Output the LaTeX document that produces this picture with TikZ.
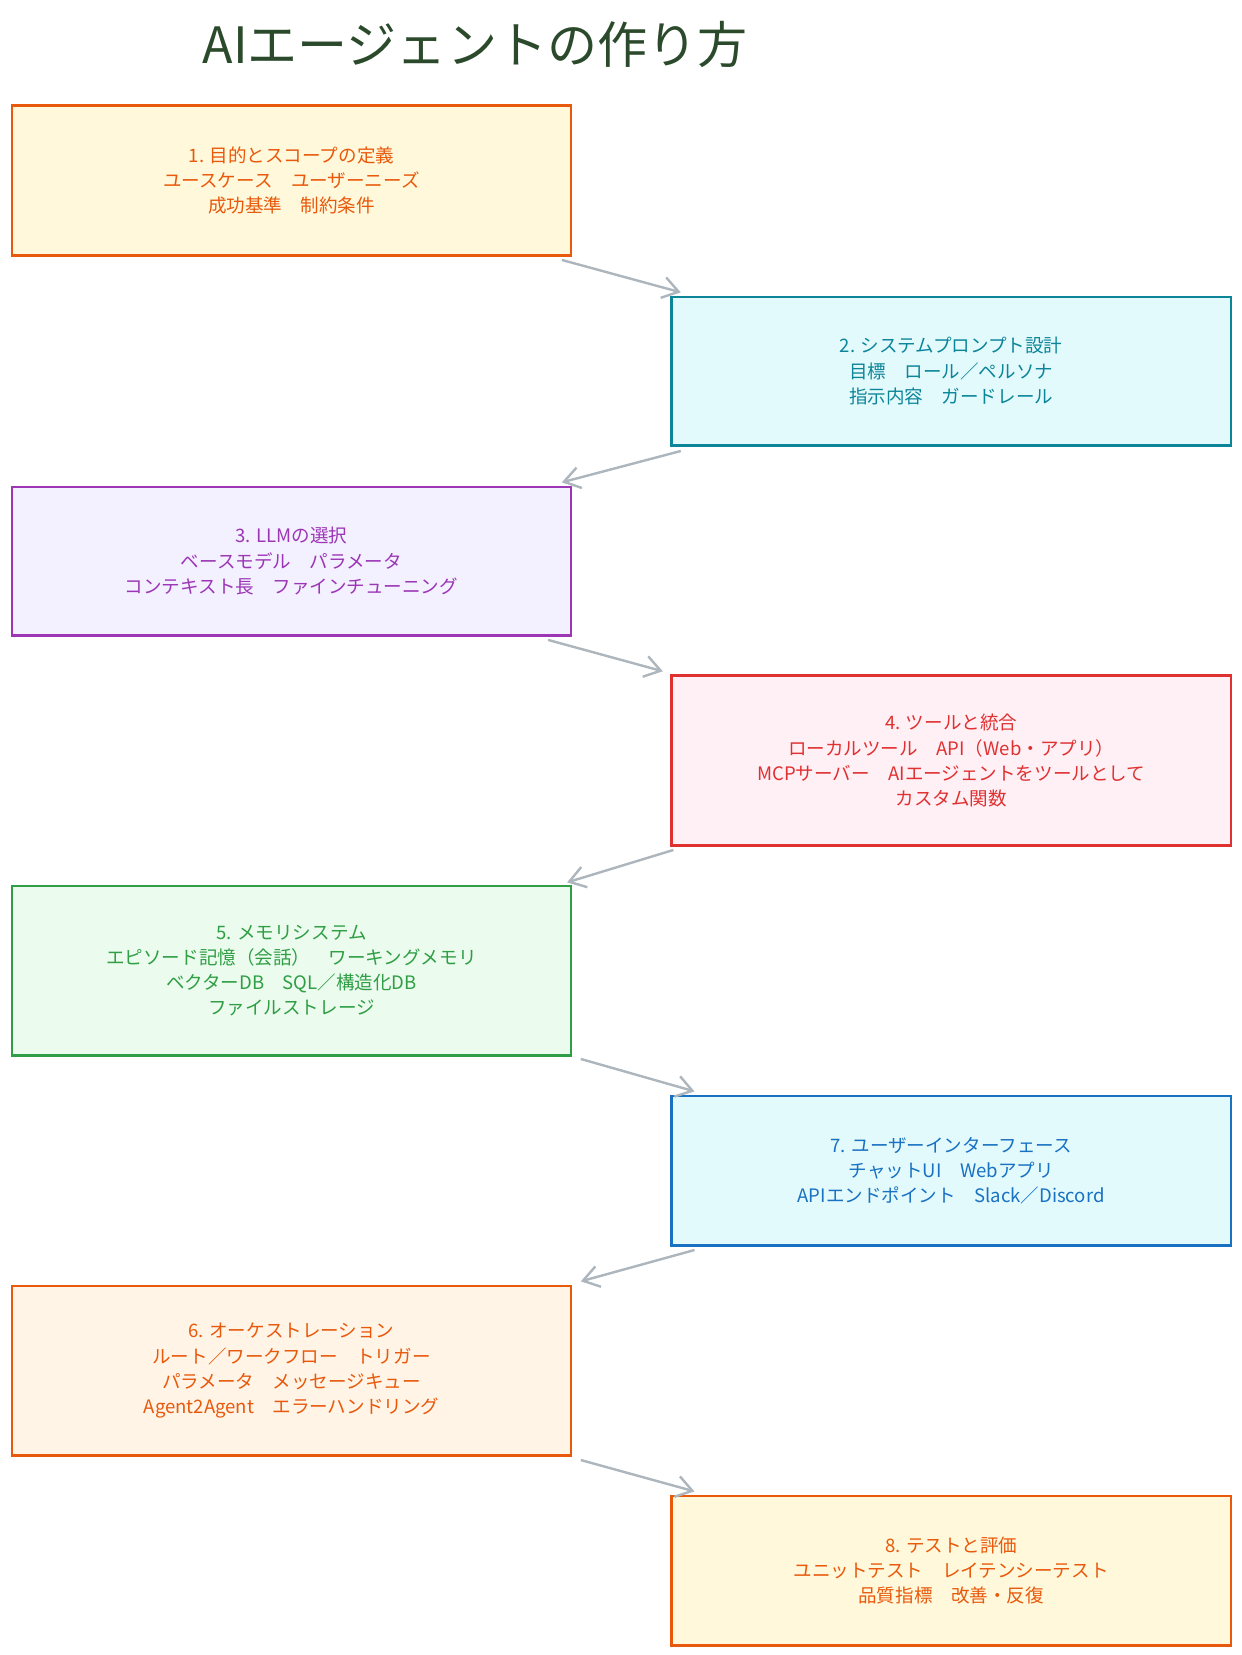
\documentclass[tikz,border=0pt]{standalone}
\usepackage{fontspec}
\setmainfont{Noto Sans CJK JP}
\usetikzlibrary{arrows.meta}
\definecolor{cOr}{HTML}{E8590C}\definecolor{fOr1}{HTML}{FFF8DB}\definecolor{fOr2}{HTML}{FFF4E6}
\definecolor{cTe}{HTML}{0C8599}\definecolor{fTe}{HTML}{E3FAFC}
\definecolor{cPu}{HTML}{9C36B5}\definecolor{fPu}{HTML}{F3F0FF}
\definecolor{cRe}{HTML}{E03131}\definecolor{fRe}{HTML}{FFF0F6}
\definecolor{cGr}{HTML}{2F9E44}\definecolor{fGr}{HTML}{EBFBEE}
\definecolor{cBl}{HTML}{1971C2}
\definecolor{cAr}{HTML}{ADB5BD}\definecolor{cTi}{HTML}{2B4A2B}
\tikzset{
 boxst/.style={draw=#1,text=#1,line width=1.3pt,align=center,anchor=north west,font=\fontsize{10}{13.6}\selectfont},
 arr/.style={draw=cAr,line width=1.3pt,-{Straight Barb[length=3mm,width=4mm]}}
}
\begin{document}
\begin{tikzpicture}[x=0.02cm,y=-0.02cm]
\useasboundingbox (0,0) rectangle (1176,1568);
\node[text=cTi,font=\fontsize{27}{32}\selectfont] (title) at (450,42) {AIエージェントの作り方};
\node[boxst=cOr,fill=fOr1,minimum width=530*0.02cm,minimum height=142*0.02cm] (b1) at (10,99) {1. 目的とスコープの定義\\ユースケース　ユーザーニーズ\\成功基準　制約条件};
\node[boxst=cTe,fill=fTe,minimum width=530*0.02cm,minimum height=141*0.02cm] (b2) at (635,280) {2. システムプロンプト設計\\目標　ロール／ペルソナ\\指示内容　ガードレール};
\node[boxst=cPu,fill=fPu,minimum width=530*0.02cm,minimum height=141*0.02cm] (b3) at (10,460) {3. \textit{LLM}の選択\\ベースモデル　パラメータ\\コンテキスト長　ファインチューニング};
\node[boxst=cRe,fill=fRe,minimum width=530*0.02cm,minimum height=161*0.02cm] (b4) at (635,639) {4. ツールと統合\\ローカルツール　\textit{API}（\textit{Web}・アプリ）\\MCPサーバー　\textit{AI}エージェントをツールとして\\カスタム関数};
\node[boxst=cGr,fill=fGr,minimum width=530*0.02cm,minimum height=161*0.02cm] (b5) at (10,838) {5. メモリシステム\\エピソード記憶（会話）　ワーキングメモリ\\ベクターDB　\textit{SQL}／構造化DB\\ファイルストレージ};
\node[boxst=cBl,fill=fTe,minimum width=530*0.02cm,minimum height=142*0.02cm] (b7) at (635,1037) {7. ユーザーインターフェース\\チャット\textit{UI}　\textit{Web}アプリ\\\textit{API}エンドポイント　\textit{Slack}／\textit{Discord}};
\node[boxst=cOr,fill=fOr2,minimum width=530*0.02cm,minimum height=161*0.02cm] (b6) at (10,1217) {6. オーケストレーション\\ルート／ワークフロー　トリガー\\パラメータ　メッセージキュー\\\textit{Agent2Agent}　エラーハンドリング};
\node[boxst=cOr,fill=fOr1,minimum width=530*0.02cm,minimum height=142*0.02cm] (b8) at (635,1416) {8. テストと評価\\ユニットテスト　レイテンシーテスト\\品質指標　改善・反復};
\draw[arr] ([shift={(-10,3)}]b1.south east) -- ([shift={(10,-3)}]b2.north west);
\draw[arr] ([shift={(10,4)}]b2.south west) -- ([shift={(-10,-3)}]b3.north east);
\draw[arr] ([shift={(-23,3)}]b3.south east) -- ([shift={(-7,-3)}]b4.north west);
\draw[arr] ([shift={(3,3)}]b4.south west) -- ([shift={(-5,-2)}]b5.north east);
\draw[arr] ([shift={(8,2)}]b5.south east) -- ([shift={(23,-3)}]b7.north west);
\draw[arr] ([shift={(23,3)}]b7.south west) -- ([shift={(8,-3)}]b6.north east);
\draw[arr] ([shift={(8,3)}]b6.south east) -- ([shift={(23,-3)}]b8.north west);
\end{tikzpicture}
\end{document}
